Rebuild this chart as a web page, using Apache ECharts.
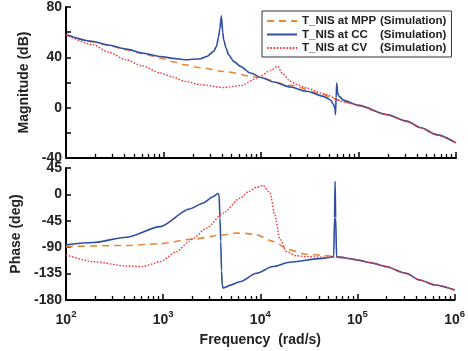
<!DOCTYPE html>
<html>
<head>
<meta charset="utf-8">
<script src="https://cdn.jsdelivr.net/npm/echarts@6/dist/echarts.min.js"></script>
<style>
html,body{margin:0;padding:0;background:#fff;}
#c{width:468px;height:351px;}
</style>
</head>
<body>
<div id="c"></div>
<script>
// ---------- data (frequency in rad/s) ----------
const seriesNames = ['T_NIS at MPP (Simulation)', 'T_NIS at CC (Simulation)', 'T_NIS at CV (Simulation)'];

// MPP magnitude (dB)
const mppMagFreq = [100, 190, 270, 417, 600, 933, 1250, 1660, 2400, 4140, 9120, 19950, 43650, 51290, 71600, 100000, 195000, 316200, 436500, 631000, 1000000];
const mppMag     = [58, 52.5, 49.7, 46, 43, 39.4, 36.5, 34.1, 31.7, 28.8, 24.3, 17.7, 10.8, 8.2, 4.5, 1.8, -5.5, -10.9, -16, -21.4, -28];

// CC magnitude (dB)
const ccMagFreq = [100, 190, 270, 417, 600, 933, 1250, 1660, 2400, 2786, 3266, 3500, 3673, 3780, 3917, 4050, 4140, 4400, 4656, 5248, 6166, 7762, 10230, 13490, 19950, 29510, 43650, 51290, 55590, 57500, 58000, 59000, 59800, 61000, 63100, 70800, 100000, 195000, 316200, 436500, 631000, 1000000];
const ccMag     = [58, 52.6, 49.8, 46.5, 43.5, 40.7, 39.2, 38.1, 38.9, 40.7, 44.7, 48.7, 56.6, 62, 73, 60, 54, 47, 42, 36.8, 32.8, 27.5, 23.8, 20.4, 16.4, 13, 9, 6.3, 2.4, -1, -5.5, 8, 19.6, 12, 9, 5.8, 1.8, -5.5, -10.9, -16, -21.4, -28];

// CV magnitude (dB)
const cvMagFreq = [100, 190, 270, 417, 600, 933, 1250, 1660, 2400, 4140, 6166, 9120, 12590, 14790, 16600, 19950, 23440, 29510, 43650, 71600, 100000, 195000, 316200, 436500, 631000, 1000000];
const cvMag     = [58, 50, 44.2, 38, 33.3, 27.5, 24.3, 20.9, 18.3, 16, 17.5, 23.5, 29.6, 32.8, 27, 21, 18.3, 15.6, 11, 4.5, 1.8, -5.5, -10.9, -16, -21.4, -28];

// MPP phase (deg)
const mppPhFreq = [100, 417, 933, 2040, 4140, 5600, 7000, 9120, 13490, 19950, 29510, 43650, 71600, 89100, 100000, 141250, 195000, 316200, 436500, 631000, 1000000];
const mppPh     = [-89, -87, -84, -76, -69, -66, -66.5, -69, -80, -94.6, -102, -104, -107, -110, -112, -117, -123, -134.5, -146, -154.4, -163];

// CC phase (deg)
const ccPhFreq = [100, 190, 417, 933, 1862, 2570, 3266, 3673, 3758, 3850, 3917, 3990, 4060, 4169, 4400, 4842, 6166, 9120, 13490, 19950, 43650, 51290, 57000, 58100, 58900, 59700, 61000, 63100, 89100, 100000, 141250, 195000, 316200, 436500, 631000, 1000000];
const ccPh     = [-86, -82, -73, -55, -25, -15, -4, 1.5, 0, -40, -80, -130, -155, -160, -158, -155, -149, -134.5, -123, -115.6, -109, -107.5, -106, -40, 22, -40, -106, -107, -110, -112, -117, -123, -134.5, -146, -154.4, -163];

// CV phase (deg)
const cvPhFreq = [100, 190, 417, 620, 933, 1380, 1862, 2040, 2786, 4140, 6166, 7500, 9120, 10715, 12590, 14125, 15850, 18620, 23440, 29510, 43650, 71600, 100000, 141250, 195000, 316200, 436500, 631000, 1000000];
const cvPh     = [-103, -114.6, -122, -123, -114.6, -97.5, -80, -75, -57.5, -32, -6.5, 4.6, 12, 15, 2.5, -35, -75, -97.5, -104.6, -106, -107, -107.5, -112, -117, -123, -134.5, -146, -154.4, -163];

const magTicks = [-40, 0, 40, 80];
const phaseTicks = [-180, -135, -90, -45, 0, 45];
const majorFreq = [100, 1000, 10000, 100000, 1000000];
const minorFreq = [200,300,400,500,600,700,800,900,2000,3000,4000,5000,6000,7000,8000,9000,20000,30000,40000,50000,60000,70000,80000,90000,200000,300000,400000,500000,600000,700000,800000,900000];

// ---------- chart ----------
const FF = '"Liberation Sans", Arial, sans-serif';
const zip = (f, v) => f.map((x, i) => [x, v[i]]);
const colors = ['#E68A3A', '#2F4FA3', '#F0383C'];
const lineStyles = [
  {color: colors[0], width: 1.6, type: [7, 5]},
  {color: colors[1], width: 1.6, type: 'solid'},
  {color: colors[2], width: 1.4, type: [1.6, 1.6]}
];

function mainX(grid, showLabels) {
  return {
    gridIndex: grid, type: 'log', logBase: 10, min: 100, max: 1000000, position: 'bottom',
    axisLine: {show: true, onZero: false, lineStyle: {color: '#000', width: 2}},
    axisTick: {show: true, inside: true, length: 6, customValues: majorFreq, lineStyle: {color: '#000', width: 1.5}},
    splitLine: {show: false},
    axisLabel: {
      show: showLabels, margin: 9,
      formatter: v => '{b|10}{s|' + Math.round(Math.log10(v)) + '}',
      rich: {
        b: {fontSize: 14, fontWeight: 'bold', fontFamily: FF, color: '#222', lineHeight: 18, verticalAlign: 'bottom'},
        s: {fontSize: 9.5, fontWeight: 'bold', fontFamily: FF, color: '#222', lineHeight: 11, verticalAlign: 'top'}
      }
    },
    name: showLabels ? 'Frequency  (rad/s)' : '',
    nameLocation: 'middle', nameGap: 33,
    nameTextStyle: {fontSize: 14, fontWeight: 'bold', fontFamily: FF, color: '#222', verticalAlign: 'top'}
  };
}
function minorX(grid) {
  return {
    gridIndex: grid, type: 'log', logBase: 10, min: 100, max: 1000000, position: 'bottom',
    axisLine: {show: false, onZero: false},
    axisTick: {show: true, inside: true, length: 4, customValues: minorFreq, lineStyle: {color: '#000', width: 1.3}},
    axisLabel: {show: false},
    splitLine: {show: false}
  };
}
function yAx(grid, min, max, interval, labelFilter, name, gap) {
  return {
    gridIndex: grid, type: 'value', min: min, max: max, interval: interval, position: 'left',
    axisLine: {show: true, onZero: false, lineStyle: {color: '#000', width: 2}},
    axisTick: {show: true, inside: true, length: 5, lineStyle: {color: '#000', width: 1.5}},
    splitLine: {show: false},
    axisLabel: {
      margin: 4, fontSize: 14, fontWeight: 'bold', fontFamily: FF, color: '#222',
      formatter: v => labelFilter.indexOf(v) >= 0 ? String(v) : ''
    },
    name: name, nameLocation: 'middle', nameGap: gap, nameRotate: 90,
    nameTextStyle: {fontSize: 14, fontWeight: 'bold', fontFamily: FF, color: '#222'}
  };
}

const chart = echarts.init(document.getElementById('c'), null, {renderer: 'canvas'});
const lineSeries = (name, xi, yi, data, k) => ({
  name: name, type: 'line', xAxisIndex: xi, yAxisIndex: yi, data: data,
  showSymbol: false, symbol: 'none', smooth: 0.25, smoothMonotone: 'x',
  lineStyle: lineStyles[k], itemStyle: {color: colors[k]}, animation: false, z: 2 + k
});

chart.setOption({
  animation: false,
  backgroundColor: '#fff',
  grid: [
    {left: 66, top: 7, width: 390, height: 151},
    {left: 66, top: 168, width: 390, height: 132}
  ],
  xAxis: [mainX(0, false), minorX(0), mainX(1, true), minorX(1)],
  yAxis: [
    yAx(0, -40, 80, 20, magTicks, 'Magnitude (dB)', 29),
    yAx(1, -180, 45, 45, phaseTicks, 'Phase (deg)', 37)
  ],
  legend: {
    data: seriesNames,
    orient: 'vertical', left: 262, top: 11,
    padding: [4, 5, 3, 4], itemGap: 1.5, itemWidth: 30, itemHeight: 12,
    backgroundColor: '#fff', borderColor: '#333', borderWidth: 1, borderRadius: 0,
    itemStyle: {opacity: 0},
    textStyle: {
      fontSize: 11.5, fontWeight: 'bold', fontFamily: FF, color: '#222',
      rich: {
        a: {fontSize: 11.5, fontWeight: 'bold', fontFamily: FF, color: '#222', width: 78, lineHeight: 14},
        b: {fontSize: 11.5, fontWeight: 'bold', fontFamily: FF, color: '#222', lineHeight: 14}
      }
    },
    formatter: n => { const i = n.indexOf('('); return '{a|' + n.slice(0, i).trim() + '}{b|' + n.slice(i) + '}'; }
  },
  series: [
    lineSeries(seriesNames[0], 0, 0, zip(mppMagFreq, mppMag), 0),
    lineSeries(seriesNames[1], 0, 0, zip(ccMagFreq, ccMag), 1),
    lineSeries(seriesNames[2], 0, 0, zip(cvMagFreq, cvMag), 2),
    lineSeries(seriesNames[0], 2, 1, zip(mppPhFreq, mppPh), 0),
    lineSeries(seriesNames[1], 2, 1, zip(ccPhFreq, ccPh), 1),
    lineSeries(seriesNames[2], 2, 1, zip(cvPhFreq, cvPh), 2)
  ]
});
</script>
</body>
</html>
